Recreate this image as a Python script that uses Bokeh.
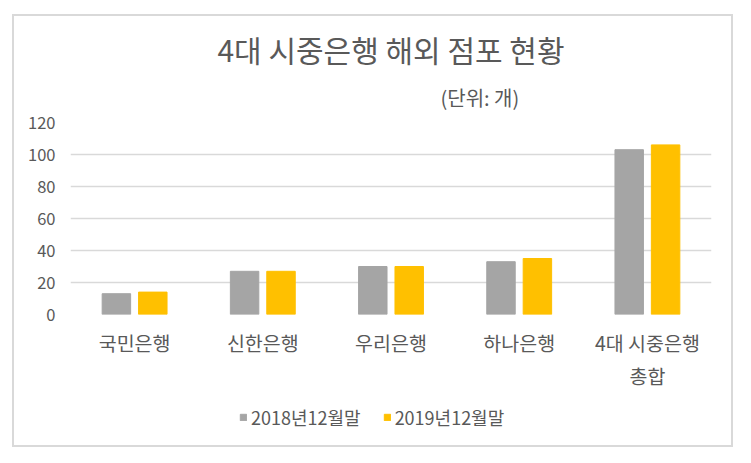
from bokeh.plotting import figure
from bokeh.layouts import column, row
from bokeh.models import (ColumnDataSource, FactorRange, FixedTicker, Legend,
                          LegendItem, Title, Spacer)
from bokeh.transform import dodge
from bokeh.embed import file_html
from bokeh.resources import INLINE

banks = ["국민은행", "신한은행", "우리은행", "하나은행", "4대 시중은행\n총합"]
y2018 = [13, 27, 30, 33, 103]
y2019 = [14, 27, 30, 35, 106]
series = ["2018년12월말", "2019년12월말"]
y_ticks = [0, 20, 40, 60, 80, 100, 120]

FONT = "Noto Sans CJK KR"
TXT = "#595959"
GRAY, GOLD = "#A5A5A5", "#FFC000"

source = ColumnDataSource(data=dict(bank=banks, y2018=y2018, y2019=y2019))

p = figure(x_range=FactorRange(*banks, range_padding=0), y_range=(0, 120),
           width=717, height=382, output_backend="svg", toolbar_location=None,
           min_border_left=56, min_border_right=20, min_border_top=106,
           min_border_bottom=84)
p.outline_line_color = None

# title + unit note
p.title.text = "4대 시중은행 해외 점포 현황"
p.title.align = "center"
p.title.text_font = FONT
p.title.text_font_style = "normal"
p.title.text_font_size = "30px"
p.title.text_color = TXT
p.title.standoff = 0

sub = Title(text="(단위: 개)", align="left", offset=370, standoff=21,
            text_font=FONT, text_font_style="normal", text_font_size="20px",
            text_color=TXT, text_line_height=0.55)
p.add_layout(sub, "above")

p.vbar(x=dodge("bank", -0.142, range=p.x_range), top="y2018", width=0.222,
       source=source, color=GRAY)
p.vbar(x=dodge("bank", 0.142, range=p.x_range), top="y2019", width=0.222,
       source=source, color=GOLD)

# axes
p.yaxis.ticker = FixedTicker(ticks=y_ticks)
for ax in (p.xaxis[0], p.yaxis[0]):
    ax.axis_line_color = None
    ax.major_tick_line_color = None
    ax.minor_tick_line_color = None
    ax.major_tick_out = 0
    ax.major_tick_in = 0
    ax.major_label_text_font = FONT
    ax.major_label_text_color = TXT
p.yaxis.major_label_text_font_size = "16.5px"
p.yaxis.major_label_standoff = 15
p.xaxis.major_label_text_font_size = "19.5px"
p.xaxis.major_label_standoff = 13
p.xaxis.major_label_text_line_height = 1.15

p.xgrid.grid_line_color = None
p.ygrid.grid_line_color = "#D9D9D9"
p.ygrid.grid_line_width = 1.5

# legend strip under the chart
lf = figure(x_range=FactorRange(*banks), y_range=(0, 1), width=717, height=47,
            output_backend="svg", toolbar_location=None, x_axis_type=None,
            y_axis_type=None, min_border=0)
lf.outline_line_color = None
lf.grid.grid_line_color = None
l1 = lf.vbar(x="bank", top="y2018", width=0.2, source=source, color=GRAY,
             visible=False)
l2 = lf.vbar(x="bank", top="y2019", width=0.2, source=source, color=GOLD,
             visible=False)
legend = Legend(items=[LegendItem(label=series[0], renderers=[l1]),
                       LegendItem(label=series[1], renderers=[l2])],
                orientation="horizontal", location=(169, 15),
                border_line_color=None, background_fill_alpha=0, padding=0,
                margin=0, spacing=22, label_standoff=4, glyph_width=8,
                glyph_height=8, label_text_font=FONT,
                label_text_font_size="18px", label_text_color=TXT,
                inactive_fill_alpha=0)
lf.add_layout(legend)

chart = column(p, lf, spacing=0)
chart.styles = {"outline": "2px solid #D9D9D9"}
layout = column(Spacer(height=16), row(Spacer(width=14), chart))

open("out.html", "w").write(file_html(layout, INLINE))
